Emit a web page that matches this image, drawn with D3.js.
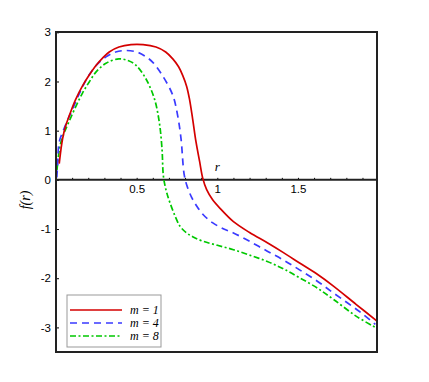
<!DOCTYPE html>
<html>
<head>
<meta charset="utf-8">
<script src="https://cdn.jsdelivr.net/npm/d3@7"></script>
<style>
  body { margin: 0; background: #fff; }
  svg { display: block; }
</style>
</head>
<body>
<div id="chart"></div>
<script>
// values
var rRed   = [0.02, 0.03, 0.041, 0.06, 0.083, 0.12, 0.166, 0.206, 0.249, 0.29, 0.33, 0.39, 0.465, 0.54, 0.62, 0.68, 0.724, 0.76, 0.786, 0.81, 0.827, 0.847, 0.868, 0.89, 0.91, 0.934, 0.97, 1.02, 1.10, 1.20, 1.31, 1.41, 1.51, 1.62, 1.72, 1.86, 1.99];
var fRed   = [0.33, 0.6, 0.84, 1.1, 1.31, 1.62, 1.92, 2.13, 2.33, 2.48, 2.60, 2.70, 2.75, 2.75, 2.70, 2.6, 2.46, 2.3, 2.12, 1.9, 1.65, 1.24, 0.77, 0.38, 0.03, -0.2, -0.40, -0.59, -0.85, -1.07, -1.28, -1.48, -1.69, -1.92, -2.16, -2.53, -2.87];
var rBlue  = [0.005, 0.01, 0.02, 0.045, 0.07, 0.1, 0.14, 0.19, 0.25, 0.31, 0.37, 0.434, 0.5, 0.55, 0.6, 0.66, 0.724, 0.754, 0.775, 0.795, 0.815, 0.84, 0.87, 0.913, 0.97, 1.04, 1.10, 1.2, 1.31, 1.41, 1.51, 1.62, 1.72, 1.89, 1.98];
var fBlue  = [0.05, 0.3, 0.77, 1.0, 1.2, 1.42, 1.72, 2.05, 2.33, 2.5, 2.6, 2.63, 2.6, 2.52, 2.39, 2.12, 1.72, 1.31, 0.84, 0.1, -0.15, -0.35, -0.52, -0.71, -0.87, -1.0, -1.08, -1.25, -1.45, -1.63, -1.83, -2.06, -2.30, -2.70, -2.94];
var rGreen = [0.006, 0.02, 0.031, 0.05, 0.08, 0.124, 0.165, 0.206, 0.25, 0.31, 0.39, 0.45, 0.496, 0.558, 0.61, 0.64, 0.657, 0.665, 0.676, 0.69, 0.707, 0.74, 0.77, 0.81, 0.85, 0.913, 1.0, 1.1, 1.2, 1.31, 1.41, 1.51, 1.62, 1.72, 1.86, 1.98];
var fGreen = [0.2, 0.6, 0.77, 0.95, 1.18, 1.5, 1.77, 1.99, 2.2, 2.37, 2.46, 2.42, 2.33, 2.05, 1.65, 1.18, 0.64, 0.1, -0.12, -0.3, -0.47, -0.75, -0.95, -1.08, -1.16, -1.25, -1.33, -1.42, -1.53, -1.66, -1.81, -1.99, -2.2, -2.43, -2.77, -3.0];

var seriesNames = ['m = 1', 'm = 4', 'm = 8'];
var xTickLabels = [0.5, 1, 1.5];
var yTickLabels = [-3, -2, -1, 0, 1, 2, 3];

var width = 429, height = 382;
var plotLeft = 56, plotTop = 32, plotRight = 377, plotBottom = 352;

var svg = d3.select('#chart').append('svg')
    .attr('width', width)
    .attr('height', height);

var x = d3.scaleLinear().domain([0, 1.99]).range([plotLeft, plotRight]);
var y = d3.scaleLinear().domain([-3.5, 3]).range([plotBottom, plotTop + 0.3]);

// y axis on the left frame, ticks pointing inwards
var yAxis = d3.axisLeft(y)
    .tickValues(yTickLabels)
    .tickFormat(function(d) { return String(d); })
    .tickSizeInner(-3)
    .tickSizeOuter(0)
    .tickPadding(5);

var gy = svg.append('g')
    .attr('transform', 'translate(' + plotLeft + ',0)')
    .call(yAxis);
gy.select('.domain').remove();
gy.selectAll('text')
    .attr('font-family', 'Liberation Sans, Arial, sans-serif')
    .attr('font-size', 11.5)
    .attr('fill', '#000');

// x axis along f = 0, minor ticks every 0.1
var xAxis = d3.axisBottom(x)
    .tickValues(d3.range(1, 20).map(function(i) { return i / 10; }))
    .tickFormat(function(d) {
        var v = Math.round(d * 10) / 10;
        return xTickLabels.indexOf(v) >= 0 ? String(v) : '';
    })
    .tickSizeInner(-2)
    .tickSizeOuter(0)
    .tickPadding(5);

var gx = svg.append('g')
    .attr('transform', 'translate(0,' + y(0) + ')')
    .call(xAxis);
gx.select('.domain').remove();
gx.selectAll('text')
    .attr('font-family', 'Liberation Sans, Arial, sans-serif')
    .attr('font-size', 11.5)
    .attr('fill', '#000');

svg.append('line')
    .attr('x1', plotLeft).attr('x2', plotRight)
    .attr('y1', y(0)).attr('y2', y(0))
    .attr('stroke', '#222')
    .attr('stroke-width', 2);

// curves
var line = d3.line()
    .x(function(d) { return x(d[0]); })
    .y(function(d) { return y(d[1]); })
    .curve(d3.curveCatmullRom.alpha(0.5));

var series = [
    { name: seriesNames[0], r: rRed,   f: fRed,   color: '#d40000', dash: null },
    { name: seriesNames[1], r: rBlue,  f: fBlue,  color: '#3a3aff', dash: '7,5' },
    { name: seriesNames[2], r: rGreen, f: fGreen, color: '#00c800', dash: '6,2.5,2,2.5' }
];

svg.append('clipPath').attr('id', 'clip')
    .append('rect')
    .attr('x', plotLeft).attr('y', plotTop)
    .attr('width', plotRight - plotLeft).attr('height', plotBottom - plotTop);

series.slice().reverse().forEach(function(s) {
    var pts = s.r.map(function(r, i) { return [r, s.f[i]]; });
    svg.append('path')
        .datum(pts)
        .attr('clip-path', 'url(#clip)')
        .attr('fill', 'none')
        .attr('stroke', s.color)
        .attr('stroke-width', 1.7)
        .attr('stroke-dasharray', s.dash)
        .attr('d', line);
});

// frame
svg.append('rect')
    .attr('x', plotLeft).attr('y', plotTop)
    .attr('width', plotRight - plotLeft).attr('height', plotBottom - plotTop)
    .attr('fill', 'none')
    .attr('stroke', '#222')
    .attr('stroke-width', 2);

// axis titles
svg.append('text')
    .attr('x', x(1))
    .attr('y', y(0) - 9)
    .attr('text-anchor', 'middle')
    .attr('font-family', 'Liberation Serif, Times New Roman, serif')
    .attr('font-style', 'italic')
    .attr('font-size', 13)
    .text('r');

svg.append('text')
    .attr('transform', 'translate(30,' + 200 + ') rotate(-90)')
    .attr('text-anchor', 'middle')
    .attr('font-family', 'Liberation Serif, Times New Roman, serif')
    .attr('font-style', 'italic')
    .attr('font-size', 14)
    .text('f(r)');

// legend
var legend = svg.append('g').attr('transform', 'translate(67,295)');
legend.append('rect')
    .attr('width', 94).attr('height', 52)
    .attr('fill', '#fff')
    .attr('stroke', '#999')
    .attr('stroke-width', 1);

series.forEach(function(s, i) {
    var ly = 15 + i * 13;
    legend.append('line')
        .attr('x1', 3).attr('x2', 55)
        .attr('y1', ly).attr('y2', ly)
        .attr('stroke', s.color)
        .attr('stroke-width', 1.7)
        .attr('stroke-dasharray', s.dash);
    legend.append('text')
        .attr('x', 63)
        .attr('y', ly + 4)
        .attr('font-family', 'Liberation Serif, Times New Roman, serif')
        .attr('font-style', 'italic')
        .attr('font-size', 12)
        .text(s.name);
});
</script>
</body>
</html>
